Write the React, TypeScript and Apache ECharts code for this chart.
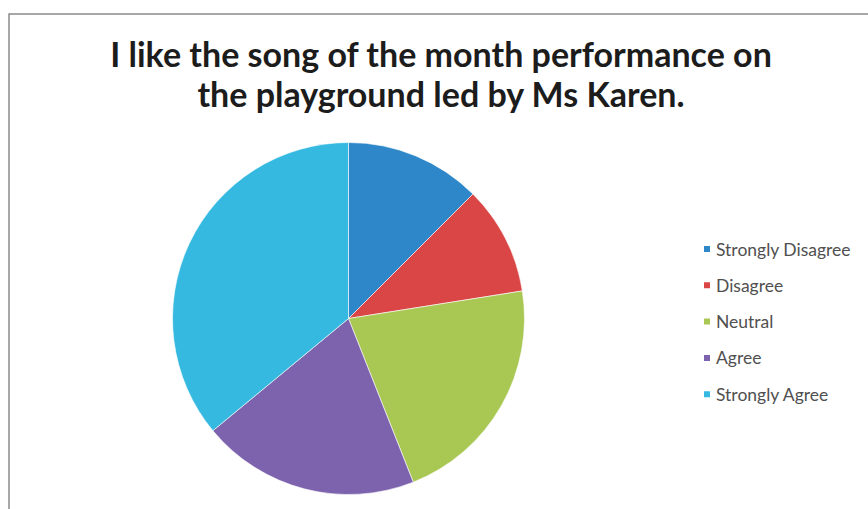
import React, { useEffect, useRef } from "react";
import * as echarts from "echarts";

const categories = ["Strongly Disagree", "Disagree", "Neutral", "Agree", "Strongly Agree"];
const values = [12.5, 10, 21.5, 20, 36];
const colors = ["#2e87c9", "#d94645", "#a9c753", "#7d62ad", "#35b9e0"];
const titleText = "I like the song of the month performance on\nthe playground led by Ms Karen.";

export default function App() {
  const ref = useRef<HTMLDivElement>(null);
  useEffect(() => {
    document.body.style.margin = "0";
    const chart = echarts.init(ref.current!, null, { renderer: "svg" });
    chart.setOption({
      animation: false,
      backgroundColor: "#ffffff",
      color: colors,
      title: {
        text: titleText,
        left: 436,
        textAlign: "center",
        top: 28,
        textStyle: {
          fontFamily: "Lato",
          fontWeight: "bold",
          fontSize: 34,
          lineHeight: 40,
          color: "#1c1c1c",
        },
      },
      legend: {
        orient: "vertical",
        left: 697,
        top: 235,
        itemWidth: 8,
        itemHeight: 8,
        itemGap: 18.3,
        icon: "rect",
        data: categories,
        textStyle: {
          fontFamily: "Lato",
          fontSize: 17.5,
          lineHeight: 18,
          color: "#505050",
          padding: [0, 0, 0, 0],
        },
      },
      graphic: [
        {
          type: "rect",
          shape: { x: 9, y: 14, width: 900, height: 520 },
          style: { fill: "none", stroke: "#8a8a8a", lineWidth: 1.5 },
          silent: true,
          z: -1,
        },
      ],
      series: [
        {
          type: "pie",
          center: [348.5, 318.5],
          radius: 176,
          startAngle: 90,
          clockwise: true,
          label: { show: false },
          labelLine: { show: false },
          itemStyle: { borderColor: "#ffffff", borderWidth: 0.6 },
          data: categories.map((name, i) => ({ name, value: values[i] })),
        },
      ],
    });
    return () => chart.dispose();
  }, []);
  return <div ref={ref} style={{ width: 868, height: 509 }} />;
}
